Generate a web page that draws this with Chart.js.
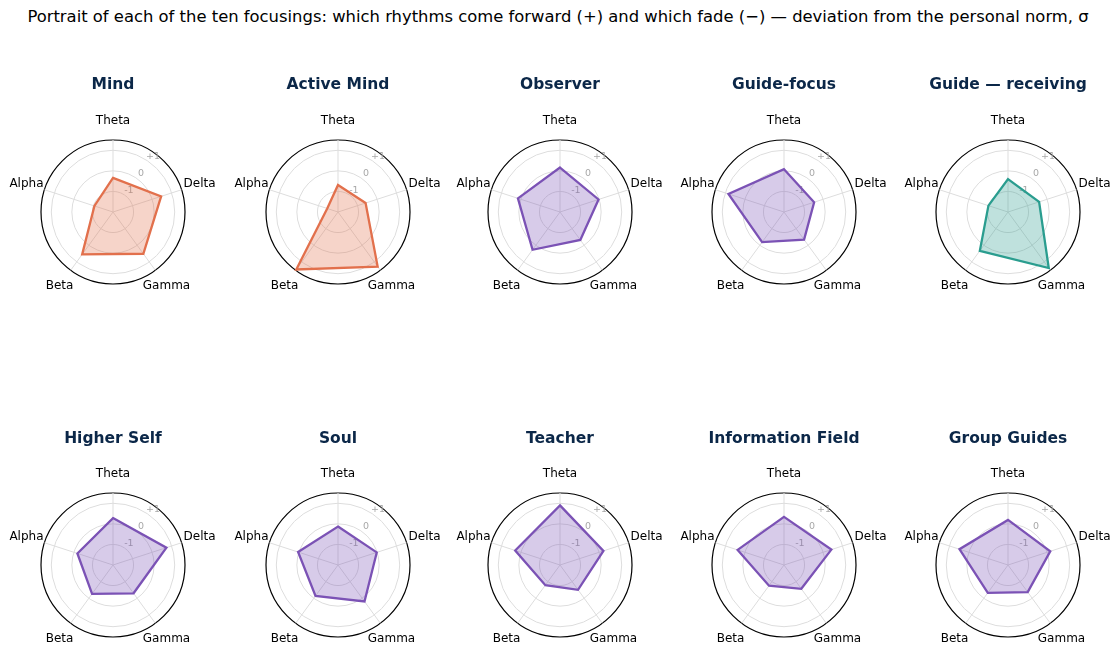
<!DOCTYPE html>
<html>
<head>
<meta charset="utf-8">
<script src="https://cdn.jsdelivr.net/npm/chart.js@4.4.1/dist/chart.umd.min.js"></script>
<style>
  body { margin: 0; background: #fff; width: 1120px; height: 654px; position: relative; overflow: hidden; font-family: "DejaVu Sans", sans-serif; }
  #title { position: absolute; left: 0; top: 7px; width: 1116px; text-align: center; font-size: 16.4px; line-height: 20px; color: #000; }
  canvas { position: absolute; }
</style>
</head>
<body>
<div id="title">Portrait of each of the ten focusings: which rhythms come forward (+) and which fade (−) — deviation from the personal norm, σ</div>

<script>
// Rhythm axes, clockwise from the top
const axes = ['Theta', 'Delta', 'Gamma', 'Beta', 'Alpha'];

const focusings = ['Mind', 'Active Mind', 'Observer', 'Guide-focus', 'Guide — receiving',
  'Higher Self', 'Soul', 'Teacher', 'Information Field', 'Group Guides'];

// deviation from personal norm (sigma), order = axes
const mind           = [-0.34,  0.46,  0.51,  0.55, -1.05];
const activeMind     = [-0.69, -0.59,  1.28,  1.45, -1.45];
const observer       = [ 0.16, -0.03, -0.32,  0.27,  0.15];
const guideFocus     = [ 0.08, -0.46, -0.34, -0.19,  0.84];
const guideReceiving = [-0.40, -0.41,  1.37,  0.33, -1.00];
const higherSelf     = [ 0.28,  0.73, -0.30, -0.27, -0.18];
const soul           = [-0.13, -0.02,  0.19, -0.14,  0.04];
const teacher        = [ 0.90,  0.22, -0.51, -0.79,  0.29];
const infoField      = [ 0.34,  0.42, -0.57, -0.76,  0.37];
const groupGuides    = [ 0.19,  0.16, -0.37, -0.33,  0.48];

const allValues = [mind, activeMind, observer, guideFocus, guideReceiving,
  higherSelf, soul, teacher, infoField, groupGuides];

const tickValues = [-1, 0, 1];
const tickLabels = ['-1', '0', '+1'];
const rMin = -2, rMax = 1.5;

// colour group per panel
const groups = ['mind', 'mind', 'purple', 'purple', 'teal', 'purple', 'purple', 'purple', 'purple', 'purple'];
const palette = {
  mind:   { line: '#E2704C', fill: 'rgba(226,112,76,0.30)' },
  purple: { line: '#7B52B5', fill: 'rgba(123,82,181,0.30)' },
  teal:   { line: '#2A9D8F', fill: 'rgba(42,157,143,0.30)' }
};

// layout of the 2 x 5 grid
const colX = [113, 337.5, 560, 784, 1008];
const rowTitleY = [85, 439];
const rowCenterY = [212, 565.5];
const R = 72;
const W = 224, H = 240;
const titleOffset = 25; // title centre, px from canvas top

// draws panel title, rhythm names and the -1/0/+1 labels
const labelPlugin = {
  id: 'labels',
  beforeDatasetsDraw(chart) {
    const s = chart.scales.r;
    const ctx = chart.ctx;
    ctx.save();
    ctx.font = '9.5px "DejaVu Sans"';
    ctx.fillStyle = '#a8a8a8';
    ctx.textAlign = 'center';
    ctx.textBaseline = 'middle';
    const a = -Math.PI / 2 + 36 * Math.PI / 180;
    tickValues.forEach((v, k) => {
      const d = s.getDistanceFromCenterForValue(v) + 6.5;
      ctx.fillText(tickLabels[k], s.xCenter + d * Math.cos(a), s.yCenter + d * Math.sin(a));
    });
    ctx.restore();
  },
  afterDraw(chart) {
    const s = chart.scales.r;
    const ctx = chart.ctx;
    ctx.save();
    ctx.textAlign = 'center';
    ctx.textBaseline = 'middle';
    ctx.font = 'bold 15.5px "DejaVu Sans"';
    ctx.fillStyle = '#0b2748';
    ctx.fillText(chart.options.panelName, chart.width / 2, titleOffset);
    ctx.font = '12px "DejaVu Sans"';
    ctx.fillStyle = '#000';
    axes.forEach((lab, i) => {
      const p = s.getPointPosition(i, s.drawingArea + 19);
      ctx.fillText(lab, p.x, p.y);
    });
    ctx.restore();
  }
};

focusings.forEach((name, idx) => {
  const row = Math.floor(idx / 5), col = idx % 5;
  const cx = colX[col], cy = rowCenterY[row];
  const left = cx - W / 2;
  const top = rowTitleY[row] - titleOffset;
  const padTop = cy - R - top;
  const padBottom = H - padTop - 2 * R;

  const canvas = document.createElement('canvas');
  canvas.width = W; canvas.height = H;
  canvas.style.left = left + 'px';
  canvas.style.top = top + 'px';
  document.body.appendChild(canvas);

  const col_ = palette[groups[idx]];
  new Chart(canvas.getContext('2d'), {
    type: 'radar',
    data: {
      labels: axes,
      datasets: [{
        data: allValues[idx],
        borderColor: col_.line,
        backgroundColor: col_.fill,
        borderWidth: 2.3,
        pointRadius: 0,
        fill: 'start'
      }]
    },
    options: {
      panelName: name,
      responsive: false,
      animation: false,
      devicePixelRatio: 1,
      layout: { padding: { left: (W - 2 * R) / 2, right: (W - 2 * R) / 2, top: padTop, bottom: padBottom } },
      plugins: {
        legend: { display: false },
        tooltip: { enabled: false },
        title: { display: false }
      },
      scales: {
        r: {
          min: rMin,
          max: rMax,
          startAngle: 0,
          afterBuildTicks: (scale) => {
            scale.ticks = [rMin, ...tickValues, rMax].map(v => ({ value: v }));
          },
          ticks: { display: false },
          pointLabels: { display: false },
          grid: {
            circular: true,
            color: (c) => c.tick && c.tick.value === rMax ? '#000' : (c.tick && c.tick.value === rMin ? 'rgba(0,0,0,0)' : '#dddddd'),
            lineWidth: (c) => c.tick && c.tick.value === rMax ? 1.2 : 1
          },
          angleLines: { color: '#dddddd', lineWidth: 1 }
        }
      }
    },
    plugins: [labelPlugin]
  });
});
</script>
</body>
</html>
